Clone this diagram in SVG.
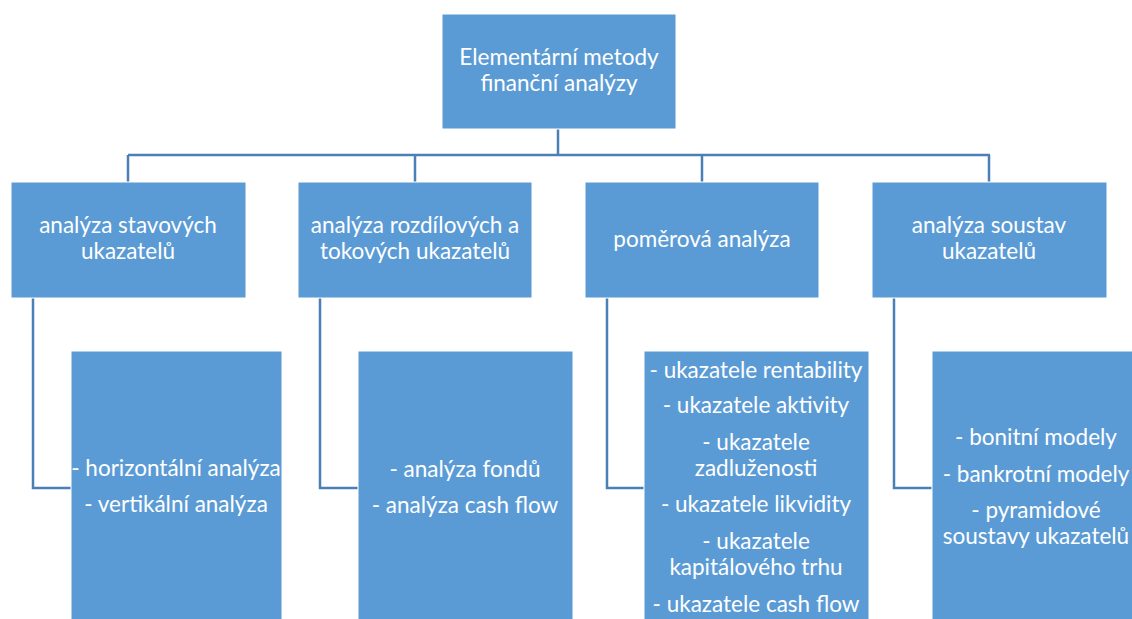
<svg xmlns="http://www.w3.org/2000/svg" width="1132" height="619" viewBox="0 0 1132 619">
<style>
.box{fill:#5b9bd5;stroke:#ffffff;stroke-width:1}
.t{font-family:Lato,"Open Sans","Liberation Sans",sans-serif;font-size:22.5px;fill:#ffffff;text-anchor:middle}
.c{fill:none;stroke:#4a7fb8;stroke-width:2.5}
</style>
<rect width="1132" height="619" fill="#ffffff"/>
<g id="connectors">
<path class="c" d="M558 129V155M128 155H990M128 155V182M415 155V182M702 155V182M989 155V182"/>
<path class="c" d="M33 298V488H71"/>
<path class="c" d="M320 298V488H358"/>
<path class="c" d="M607 298V488H645"/>
<path class="c" d="M894 298V488H932"/>
</g>
<g id="root">
<rect class="box" x="442" y="14" width="234" height="115"/>
<text class="t" x="559" y="65">Elementární metody</text>
<text class="t" x="559" y="91">finanční analýzy</text>
</g>
<g id="n1">
<rect class="box" x="11" y="182" width="235" height="116"/>
<text class="t" x="128" y="233">analýza stavových</text>
<text class="t" x="128" y="259">ukazatelů</text>
</g>
<g id="n2">
<rect class="box" x="298" y="182" width="234" height="116"/>
<text class="t" x="415" y="233">analýza rozdílových a</text>
<text class="t" x="415" y="259">tokových ukazatelů</text>
</g>
<g id="n3">
<rect class="box" x="585" y="182" width="234" height="116"/>
<text class="t" x="702" y="247">poměrová analýza</text>
</g>
<g id="n4">
<rect class="box" x="872" y="182" width="235" height="116"/>
<text class="t" x="989" y="233">analýza soustav</text>
<text class="t" x="989" y="259">ukazatelů</text>
</g>
<g id="n1a">
<rect class="box" x="71" y="351" width="211" height="280"/>
<text class="t" x="176" y="476">- horizontální analýza</text>
<text class="t" x="176" y="512">- vertikální analýza</text>
</g>
<g id="n2a">
<rect class="box" x="358" y="351" width="215" height="280"/>
<text class="t" x="465" y="477">- analýza fondů</text>
<text class="t" x="465" y="513">- analýza cash flow</text>
</g>
<g id="n3a">
<rect class="box" x="644" y="351" width="225" height="280"/>
<text class="t" x="756" y="378">- ukazatele rentability</text>
<text class="t" x="756" y="413">- ukazatele aktivity</text>
<text class="t" x="756" y="450">- ukazatele</text>
<text class="t" x="756" y="476">zadluženosti</text>
<text class="t" x="756" y="512">- ukazatele likvidity</text>
<text class="t" x="756" y="549">- ukazatele</text>
<text class="t" x="756" y="575">kapitálového trhu</text>
<text class="t" x="756" y="612">- ukazatele cash flow</text>
</g>
<g id="n4a">
<rect class="box" x="932" y="351" width="212" height="280"/>
<text class="t" x="1036" y="445">- bonitní modely</text>
<text class="t" x="1036" y="482">- bankrotní modely</text>
<text class="t" x="1036" y="518">- pyramidové</text>
<text class="t" x="1036" y="544">soustavy ukazatelů</text>
</g>
</svg>
